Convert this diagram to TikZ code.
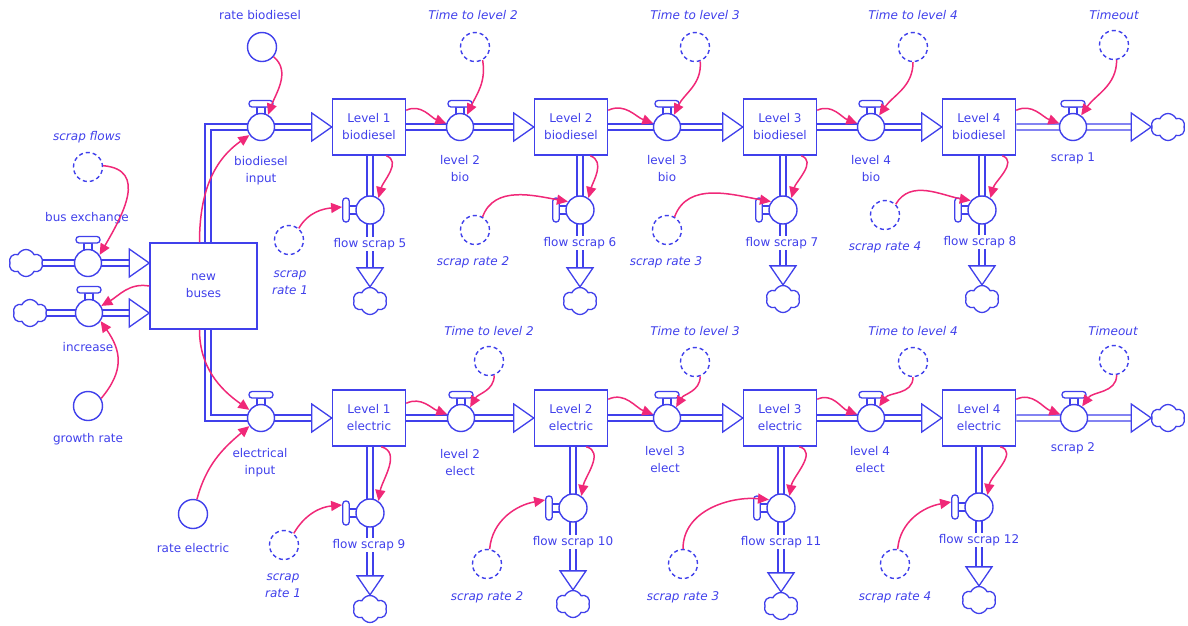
\documentclass[tikz,border=0pt]{standalone}
\usepackage{fontspec}
\setmainfont{DejaVu Sans}
\usetikzlibrary{arrows.meta,shapes.symbols,backgrounds}
\definecolor{sdblue}{RGB}{64,64,235}
\definecolor{sdpink}{RGB}{240,40,120}
\tikzset{
  every node/.style={font=\fontsize{12}{17}\selectfont, text=sdblue},
  lab/.style={align=center, inner sep=1pt},
  ilab/.style={lab, font=\fontsize{12}{17}\selectfont\itshape},
  wlab/.style={lab, fill=white},
  stock/.style={draw=sdblue, line width=1.5pt, fill=white, minimum width=73, minimum height=56, inner sep=0, align=center},
  valvecirc/.style={circle, draw=sdblue, line width=1.4pt, fill=white, minimum size=27, inner sep=0},
  vline/.style={draw=sdblue, line width=1.3pt, fill=white},
  aux/.style={circle, draw=sdblue, line width=1.4pt, minimum size=29, inner sep=0},
  shadow/.style={aux, dash pattern=on 4pt off 3pt},
  sdcloud/.style={cloud, cloud puffs=6, cloud puff arc=130, draw=sdblue, line width=1.3pt, fill=white, minimum width=34, minimum height=27, inner sep=0},
  pipe/.style={draw=sdblue, line width=1.4pt, double=white, double distance=4.6pt},
  headsty/.style={draw=sdblue, line width=1.3pt, fill=white, line join=miter},
  link/.style={draw=sdpink, line width=1.5pt, -{Triangle[length=11pt,width=10pt]}},
  pics/valveH/.style={code={
     \draw[vline] (-4,11) rectangle (4,20);
     \draw[vline, rounded corners=3pt] (-12,20) rectangle (12,26.5);
     \node[valvecirc] (-c) at (0,0) {};
  }},
  pics/valveV/.style={code={
     \draw[vline] (-21,-4) rectangle (-12,4);
     \node[vline, rectangle, rounded corners=3pt, minimum width=6.5, minimum height=24, inner sep=0] (-h) at (-24,0) {};
     \node[valvecirc, minimum size=28] (-c) at (0,0) {};
  }},
  pics/headR/.style={code={\draw[headsty] (0,0) -- (-20,14) -- (-20,-14) -- cycle;}},
  pics/headD/.style={code={\draw[headsty] (0,0) -- (-13,19) -- (13,19) -- cycle;}},
}
\begin{document}
\begin{tikzpicture}[x=1pt,y=1pt]
\useasboundingbox (0,0) rectangle (1188,-625);

% ---------- stocks ----------
\node[stock, minimum width=107, minimum height=86] (NB) at (203.5,-286) {new\\buses};
\node[stock] (L1b) at (369,-127) {Level 1\\biodiesel};
\node[stock] (L2b) at (571,-127) {Level 2\\biodiesel};
\node[stock] (L3b) at (780,-127) {Level 3\\biodiesel};
\node[stock] (L4b) at (979,-127) {Level 4\\biodiesel};
\node[stock] (L1e) at (369,-418) {Level 1\\electric};
\node[stock] (L2e) at (571,-418) {Level 2\\electric};
\node[stock] (L3e) at (780,-418) {Level 3\\electric};
\node[stock] (L4e) at (979,-418) {Level 4\\electric};

% ---------- clouds ----------
\node[sdcloud] (cbe) at (26,-263) {};
\node[sdcloud] (cin) at (30,-313) {};
\node[sdcloud] (cs1) at (1168,-127) {};
\node[sdcloud] (cs2) at (1168,-418) {};
\node[sdcloud] (c5) at (370,-301) {};
\node[sdcloud] (c6) at (580,-301) {};
\node[sdcloud] (c7) at (783,-299) {};
\node[sdcloud] (c8) at (982,-299) {};
\node[sdcloud] (c9) at (370,-609) {};
\node[sdcloud] (c10) at (573,-604) {};
\node[sdcloud] (c11) at (781,-606) {};
\node[sdcloud] (c12) at (979,-600) {};

% ---------- valves ----------
\pic (vbe) at (88,-263) {valveH};
\pic (vin) at (89,-313) {valveH};
\pic (vbi) at (261,-127) {valveH};
\pic (v2b) at (460,-127) {valveH};
\pic (v3b) at (667,-127) {valveH};
\pic (v4b) at (871,-127) {valveH};
\pic (vs1) at (1073,-127) {valveH};
\pic (vei) at (261,-418) {valveH};
\pic (v2e) at (461,-418) {valveH};
\pic (v3e) at (667,-418) {valveH};
\pic (v4e) at (871,-418) {valveH};
\pic (vs2) at (1074,-418) {valveH};
\pic (fs5) at (370,-210) {valveV};
\pic (fs6) at (580,-210) {valveV};
\pic (fs7) at (783,-210) {valveV};
\pic (fs8) at (982,-210) {valveV};
\pic (fs9) at (370,-513) {valveV};
\pic (fs10) at (573,-508) {valveV};
\pic (fs11) at (781,-508) {valveV};
\pic (fs12) at (979,-507) {valveV};

% ---------- auxiliaries ----------
\node[aux] (rb) at (262,-47) {};
\node[shadow] (tl2) at (475,-47) {};
\node[shadow] (tl3) at (695,-47) {};
\node[shadow] (tl4) at (913,-47) {};
\node[shadow] (to1) at (1114,-45) {};
\node[shadow] (sr1) at (289,-240) {};
\node[shadow] (sr2) at (475,-230) {};
\node[shadow] (sr3) at (667,-230) {};
\node[shadow] (sr4) at (885,-215) {};
\node[shadow] (sf) at (88,-167) {};
\node[aux] (gr) at (88,-406) {};
\node[shadow] (tl2e) at (489,-361) {};
\node[shadow] (tl3e) at (695,-362) {};
\node[shadow] (tl4e) at (913,-362) {};
\node[shadow] (toe) at (1114,-360) {};
\node[shadow] (sr1e) at (284,-545) {};
\node[shadow] (sr2e) at (487,-564) {};
\node[shadow] (sr3e) at (683,-564) {};
\node[shadow] (sr4e) at (895,-564) {};
\node[aux] (re) at (193,-514) {};

% ---------- pipes ----------
\path (vbe-c -| NB.west) coordinate (nbw1) (vin-c -| NB.west) coordinate (nbw2);
\begin{pgfonlayer}{background}
\draw[pipe] (cbe.center) -- ([xshift=-20pt]nbw1);
\draw[pipe] (cin.center) -- ([xshift=-20pt]nbw2);
\draw[pipe] ([xshift=4.5pt]NB.north) |- (vbi-c.center) -- ([xshift=-20pt]L1b.west);
\draw[pipe] (L1b.east) -- ([xshift=-20pt]L2b.west);
\draw[pipe] (L2b.east) -- ([xshift=-20pt]L3b.west);
\draw[pipe] (L3b.east) -- ([xshift=-20pt]L4b.west);
\draw[pipe] (L4b.east) -- ([xshift=-20pt]cs1.west);
\draw[pipe] ([xshift=4.5pt]NB.south) |- (vei-c.center) -- ([xshift=-20pt]L1e.west);
\draw[pipe] (L1e.east) -- ([xshift=-20pt]L2e.west);
\draw[pipe] (L2e.east) -- ([xshift=-20pt]L3e.west);
\draw[pipe] (L3e.east) -- ([xshift=-20pt]L4e.west);
\draw[pipe] (L4e.east) -- ([xshift=-20pt]cs2.west);
\draw[pipe] (fs5-c |- L1b.south) -- ([yshift=19pt]c5.north);
\draw[pipe] (fs6-c |- L2b.south) -- ([yshift=19pt]c6.north);
\draw[pipe] (fs7-c |- L3b.south) -- ([yshift=19pt]c7.north);
\draw[pipe] (fs8-c |- L4b.south) -- ([yshift=19pt]c8.north);
\draw[pipe] (fs9-c |- L1e.south) -- ([yshift=19pt]c9.north);
\draw[pipe] (fs10-c |- L2e.south) -- ([yshift=19pt]c10.north);
\draw[pipe] (fs11-c |- L3e.south) -- ([yshift=19pt]c11.north);
\draw[pipe] (fs12-c |- L4e.south) -- ([yshift=19pt]c12.north);
\end{pgfonlayer}
\pic at (nbw1) {headR};
\pic at (nbw2) {headR};
\pic at (L1b.west) {headR};
\pic at (L2b.west) {headR};
\pic at (L3b.west) {headR};
\pic at (L4b.west) {headR};
\pic at (cs1.west) {headR};
\pic at (L1e.west) {headR};
\pic at (L2e.west) {headR};
\pic at (L3e.west) {headR};
\pic at (L4e.west) {headR};
\pic at (cs2.west) {headR};
\pic at (c5.north) {headD};
\pic at (c6.north) {headD};
\pic at (c7.north) {headD};
\pic at (c8.north) {headD};
\pic at (c9.north) {headD};
\pic at (c10.north) {headD};
\pic at (c11.north) {headD};
\pic at (c12.north) {headD};

% ---------- labels ----------
\node[lab] (t-rb) at (260,-15) {rate biodiesel};
\node[ilab] (t-tl2) at (473,-15) {Time to level 2};
\node[ilab] (t-tl3) at (695,-15) {Time to level 3};
\node[ilab] (t-tl4) at (913,-15) {Time to level 4};
\node[ilab] (t-to1) at (1114,-15) {Timeout};
\node[lab] (t-vbi) at (261,-171) {biodiesel\\input};
\node[lab] (t-v2b) at (460,-169) {level 2\\bio};
\node[lab] (t-v3b) at (667,-169) {level 3\\bio};
\node[lab] (t-v4b) at (871,-169) {level 4\\bio};
\node[lab] (t-vs1) at (1073,-158) {scrap 1};
\node[wlab] (t-fs5) at (370,-244) {flow scrap 5};
\node[wlab] (t-fs6) at (580,-243) {flow scrap 6};
\node[wlab] (t-fs7) at (782,-243) {flow scrap 7};
\node[wlab] (t-fs8) at (980,-242) {flow scrap 8};
\node[ilab] (t-sr1) at (290,-283) {scrap\\rate 1};
\node[ilab] (t-sr2) at (473,-262) {scrap rate 2};
\node[ilab] (t-sr3) at (666,-262) {scrap rate 3};
\node[ilab] (t-sr4) at (885,-247) {scrap rate 4};
\node[ilab] (t-sf) at (87,-137) {scrap flows};
\node[lab] (t-vbe) at (87,-218) {bus exchange};
\node[lab] (t-vin) at (88,-347) {increase};
\node[lab] (t-gr) at (88,-439) {growth rate};
\node[ilab] (t-tl2e) at (489,-331) {Time to level 2};
\node[ilab] (t-tl3e) at (695,-331) {Time to level 3};
\node[ilab] (t-tl4e) at (913,-331) {Time to level 4};
\node[ilab] (t-toe) at (1113,-331) {Timeout};
\node[lab] (t-vei) at (260,-463) {electrical\\input};
\node[lab] (t-v2e) at (460,-463) {level 2\\elect};
\node[lab] (t-v3e) at (665,-460) {level 3\\elect};
\node[lab] (t-v4e) at (870,-460) {level 4\\elect};
\node[lab] (t-vs2) at (1073,-448) {scrap 2};
\node[wlab] (t-fs9) at (369,-545) {flow scrap 9};
\node[wlab] (t-fs10) at (573,-542) {flow scrap 10};
\node[wlab] (t-fs11) at (781,-542) {flow scrap 11};
\node[wlab] (t-fs12) at (979,-540) {flow scrap 12};
\node[ilab] (t-sr1e) at (283,-586) {scrap\\rate 1};
\node[ilab] (t-sr2e) at (487,-597) {scrap rate 2};
\node[ilab] (t-sr3e) at (683,-597) {scrap rate 3};
\node[ilab] (t-sr4e) at (895,-597) {scrap rate 4};
\node[lab] (t-re) at (193,-548) {rate electric};

% ---------- links ----------
% left
\draw[link] (sf.5) to[out=-5,in=60,looseness=1.3] (vbe-c.35);
\draw[link] (NB.west) to[out=170,in=30] (vin-c.30);
\draw[link] (gr.30) to[out=50,in=-55,looseness=1.2] (vin-c.-35);
\draw[link] ([xshift=-4pt]NB.north) to[out=90,in=215] (vbi-c.215);
\draw[link] ([xshift=-4pt]NB.south) to[out=-90,in=145] (vei-c.145);
\draw[link] (re.75) to[out=75,in=220] (vei-c.215);
% top row
\draw[link] (rb.-40) to[out=-40,in=70] (vbi-c.60);
\draw[link] (tl2.-60) to[out=-80,in=65] (v2b-c.60);
\draw[link] ([yshift=-12pt]L1b.north east) to[out=25,in=160] (v2b-c.165);
\draw[link] ([xshift=-20pt]L1b.south east) to[out=-20,in=75] (fs5-c.55);
\draw[link] (sr1.50) to[out=60,in=185] ([yshift=3pt]fs5-h.west);
\draw[link] (tl3.-70) to[out=-85,in=65] (v3b-c.60);
\draw[link] ([yshift=-12pt]L2b.north east) to[out=25,in=160] (v3b-c.165);
\draw[link] ([xshift=-18pt]L2b.south east) to[out=-20,in=75] (fs6-c.55);
\draw[link] (sr2.60) to[out=70,in=170] (fs6-c.145);
\draw[link] (tl4.-90) to[out=-90,in=55] (v4b-c.55);
\draw[link] ([yshift=-12pt]L3b.north east) to[out=25,in=160] (v4b-c.165);
\draw[link] ([xshift=-16pt]L3b.south east) to[out=-20,in=75] (fs7-c.55);
\draw[link] (sr3.60) to[out=70,in=170] (fs7-c.145);
\draw[link] (to1.-80) to[out=-90,in=55] (vs1-c.55);
\draw[link] ([yshift=-12pt]L4b.north east) to[out=25,in=160] (vs1-c.165);
\draw[link] ([xshift=-14pt]L4b.south east) to[out=-20,in=75] (fs8-c.55);
\draw[link] (sr4.45) to[out=60,in=170] (fs8-c.140);
% bottom row
\draw[link] (tl2e.-70) to[out=-90,in=60] (v2e-c.50);
\draw[link] ([yshift=-14pt]L1e.north east) to[out=25,in=160] (v2e-c.165);
\draw[link] ([xshift=-25pt]L1e.south east) to[out=-15,in=80] (fs9-c.55);
\draw[link] (sr1e.50) to[out=60,in=185] ([yshift=8pt]fs9-h.west);
\draw[link] (tl3e.-70) to[out=-90,in=60] (v3e-c.50);
\draw[link] ([yshift=-10pt]L2e.north east) to[out=25,in=160] (v3e-c.165);
\draw[link] ([xshift=-22pt]L2e.south east) to[out=-15,in=80] (fs10-c.55);
\draw[link] (sr2e.80) to[out=85,in=190] ([yshift=8pt]fs10-h.west);
\draw[link] (tl4e.-90) to[out=-90,in=55] (v4e-c.55);
\draw[link] ([yshift=-10pt]L3e.north east) to[out=25,in=160] (v4e-c.165);
\draw[link] ([xshift=-18pt]L3e.south east) to[out=-15,in=80] (fs11-c.55);
\draw[link] (sr3e.north) to[out=90,in=175] (fs11-c.145);
\draw[link] (toe.-80) to[out=-90,in=55] (vs2-c.55);
\draw[link] ([yshift=-10pt]L4e.north east) to[out=25,in=160] (vs2-c.165);
\draw[link] ([xshift=-16pt]L4e.south east) to[out=-15,in=80] (fs12-c.55);
\draw[link] (sr4e.80) to[out=85,in=190] ([yshift=5pt]fs12-h.west);
\end{tikzpicture}
\end{document}
